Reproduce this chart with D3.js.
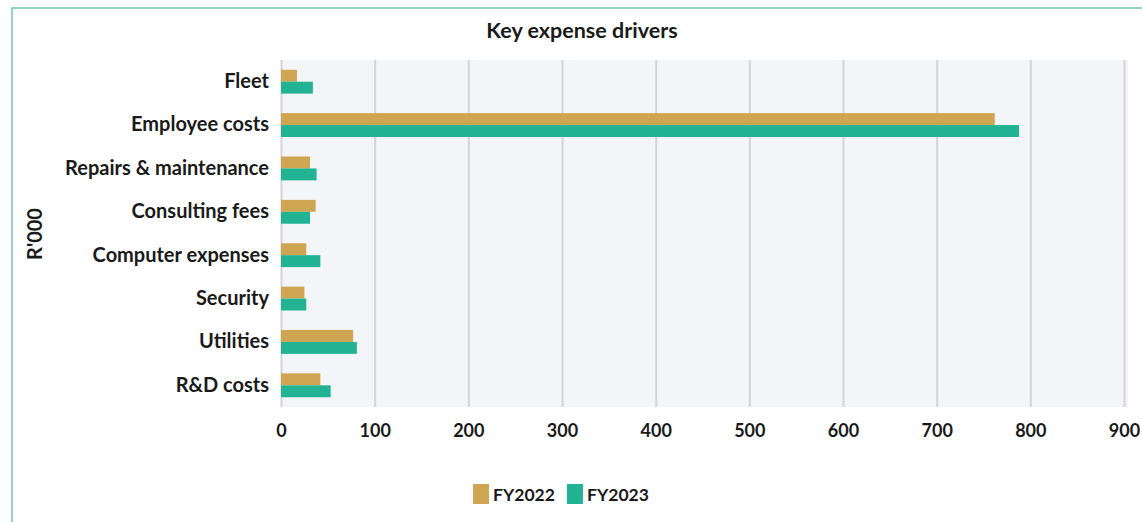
<!DOCTYPE html>
<html>
<head>
<meta charset="utf-8">
<script src="https://cdn.jsdelivr.net/npm/d3@7"></script>
<style>
  body { margin: 0; background: white; }
  text { font-family: Lato, "Noto Sans", sans-serif; font-weight: 700; fill: #1a1a1a; }
</style>
</head>
<body>
<div id="chart"></div>
<script>
// Chart data
var categories = ["Fleet", "Employee costs", "Repairs & maintenance", "Consulting fees",
                  "Computer expenses", "Security", "Utilities", "R&D costs"]
var fy2022 = [17, 762, 31, 37, 27, 25, 77, 42]
var fy2023 = [34, 788, 38, 31, 42, 27, 81, 53]
var seriesNames = ["FY2022", "FY2023"]
var seriesColors = ["#cfa552", "#22b492"]
var xTicks = [0, 100, 200, 300, 400, 500, 600, 700, 800, 900]

var W = 1142, H = 522
var margin = {top: 60, left: 281, right: 18, bottom: 115}
var width = 843
var height = H - margin.top - margin.bottom

var svg = d3.select("#chart").append("svg")
    .attr("width", W)
    .attr("height", H)

// outer frame (right and bottom edges fall outside the picture)
svg.append("rect")
    .attr("x", 12).attr("y", 8)
    .attr("width", W).attr("height", H)
    .style("fill", "none")
    .style("stroke", "#6cc9b5")
    .style("stroke-width", 1.5)

var x_scale = d3.scaleLinear().domain([0, 900]).range([0, width])
var y_scale = d3.scaleBand().domain(categories).range([0, height])
    .paddingInner(0.45).paddingOuter(0.225)
var s_scale = d3.scaleBand().domain(seriesNames).range([0, y_scale.bandwidth()])

var chart = svg.append("g")
    .attr("transform", "translate(" + margin.left + "," + margin.top + ")")

chart.append("rect")
    .attr("x", 0).attr("y", 0)
    .attr("width", width + 4).attr("height", height)
    .style("fill", "#f4f5f8")

// Gridlines
chart.append("g")
    .attr("class", "grid")
    .call(d3.axisBottom(x_scale).tickValues(xTicks).tickSize(height).tickFormat(""))
    .call(function (g) { g.select(".domain").remove() })
    .selectAll("line")
    .style("stroke", "#d3d4d8")
    .style("stroke-width", 2)

// Bars
var rows = chart.selectAll(".row")
    .data(categories)
    .enter().append("g")
    .attr("class", "row")
    .attr("transform", function (d) { return "translate(0," + y_scale(d) + ")" })

rows.selectAll("rect")
    .data(function (d, i) {
        return [{s: "FY2022", v: fy2022[i], c: seriesColors[0]},
                {s: "FY2023", v: fy2023[i], c: seriesColors[1]}]
    })
    .enter().append("rect")
    .attr("x", 0)
    .attr("y", function (d) { return s_scale(d.s) })
    .attr("width", function (d) { return x_scale(d.v) })
    .attr("height", s_scale.bandwidth())
    .style("fill", function (d) { return d.c })

// Axes
var xAxis = chart.append("g")
    .attr("transform", "translate(0," + height + ")")
    .call(d3.axisBottom(x_scale).tickValues(xTicks).tickSize(0).tickPadding(17))
xAxis.select(".domain").remove()
xAxis.selectAll("text").style("font-size", "18px").style("font-family", null)

var yAxis = chart.append("g")
    .call(d3.axisLeft(y_scale).tickSize(0).tickPadding(12))
yAxis.select(".domain").remove()
yAxis.selectAll("text").style("font-size", "20px").style("font-family", null)

// Title
svg.append("text")
    .attr("x", 582).attr("y", 38)
    .style("text-anchor", "middle")
    .style("font-size", "21.5px")
    .text("Key expense drivers")

// Y axis label
svg.append("text")
    .attr("transform", "translate(42,234) rotate(-90)")
    .style("text-anchor", "middle")
    .style("font-size", "20px")
    .text("R'000")

// Legend
var legend = svg.selectAll(".legend")
    .data(seriesNames)
    .enter().append("g")
    .attr("class", "legend")
    .attr("transform", function (d, i) { return "translate(" + (473 + i * 94) + ",484)" })

legend.append("rect")
    .attr("width", 16).attr("height", 20)
    .style("fill", function (d, i) { return seriesColors[i] })

legend.append("text")
    .attr("x", 20).attr("y", 17)
    .style("font-size", "17.5px")
    .text(function (d) { return d })
</script>
</body>
</html>
